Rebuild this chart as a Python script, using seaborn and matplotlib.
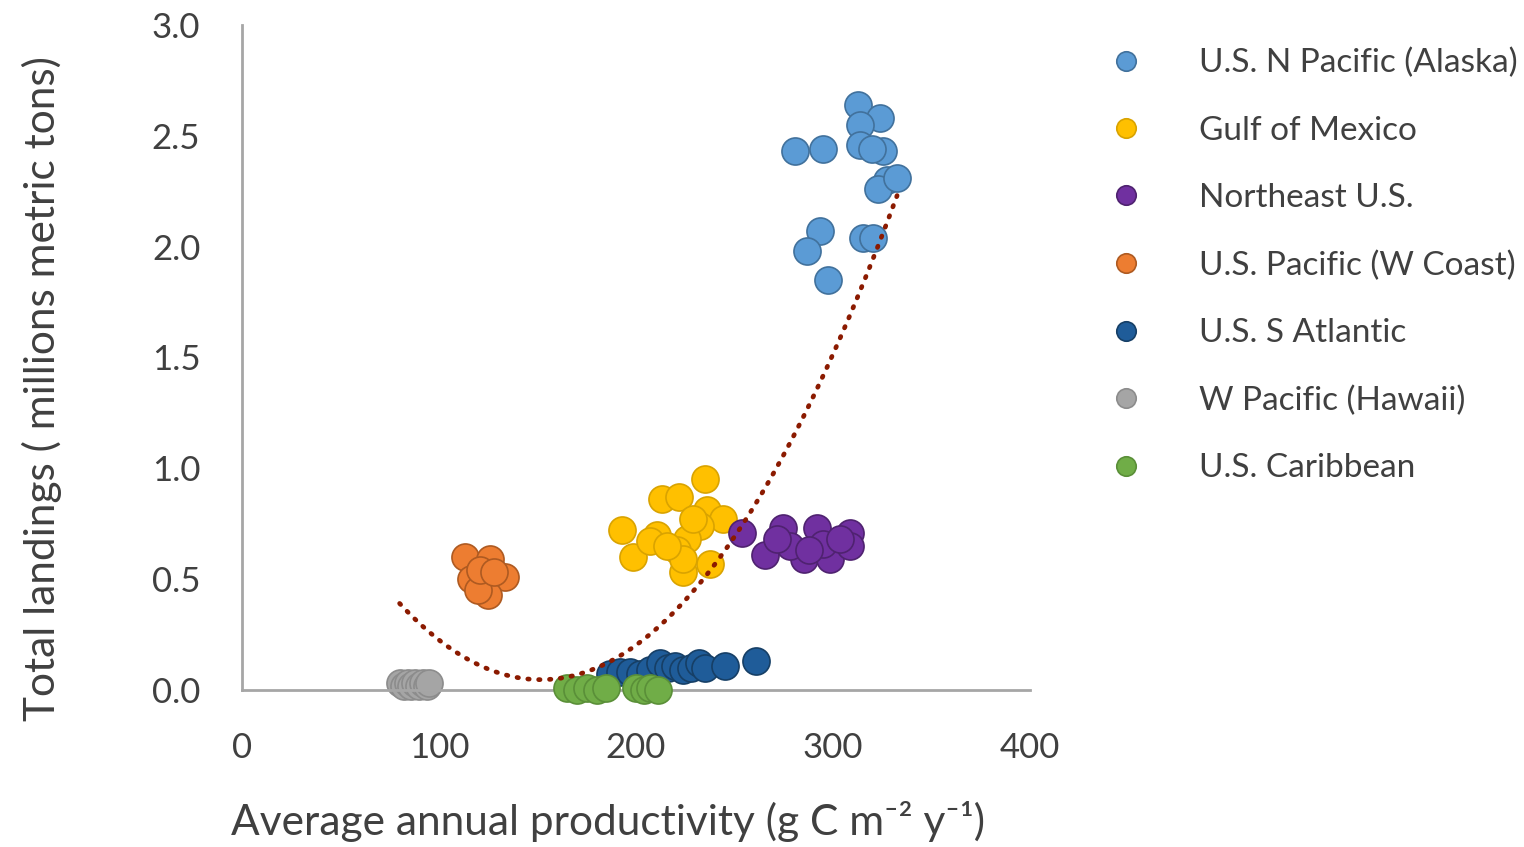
import numpy as np
import pandas as pd
import matplotlib
matplotlib.use("Agg")
import matplotlib.pyplot as plt
from matplotlib.lines import Line2D
import seaborn as sns

# values (productivity, landings)
regions = ["U.S. N Pacific (Alaska)", "Gulf of Mexico", "Northeast U.S.",
           "U.S. Pacific (W Coast)", "U.S. S Atlantic", "W Pacific (Hawaii)",
           "U.S. Caribbean"]

alaska_x = [312.7, 323.9, 313.7, 313.7, 325.4, 320.0, 280.7, 294.9,
            327.4, 322.8, 332.5, 293.4, 286.8, 297.5, 315.2, 320.3]
alaska_y = [2.64, 2.58, 2.55, 2.46, 2.43, 2.44, 2.43, 2.44,
            2.30, 2.26, 2.31, 2.07, 1.98, 1.85, 2.04, 2.04]

gulf_x = [235, 213, 222, 193, 198.5, 210.5, 207, 224, 237.6, 236, 244,
          232.5, 226, 221, 229, 224, 215.7]
gulf_y = [0.95, 0.86, 0.87, 0.72, 0.60, 0.70, 0.67, 0.53, 0.57, 0.81, 0.77,
          0.74, 0.68, 0.63, 0.77, 0.59, 0.65]

northeast_x = [254, 265.5, 274.6, 292, 285, 298.5, 308.6, 308.6, 278, 295,
               271.5, 303.5, 288]
northeast_y = [0.71, 0.61, 0.73, 0.73, 0.59, 0.59, 0.71, 0.65, 0.65, 0.66,
               0.68, 0.68, 0.63]

wcoast_x = [113, 126, 116, 133.5, 125, 120, 121, 128]
wcoast_y = [0.60, 0.59, 0.50, 0.51, 0.43, 0.45, 0.54, 0.53]

satl_x = [187, 192, 197, 202, 207, 212, 216, 220, 224, 228, 232, 235, 245, 261]
satl_y = [0.07, 0.08, 0.08, 0.07, 0.09, 0.12, 0.10, 0.11, 0.09, 0.10, 0.12, 0.10, 0.11, 0.13]

hawaii_x = [80, 82, 84, 86, 88, 90, 92, 94, 95]
hawaii_y = [0.03, 0.02, 0.03, 0.02, 0.03, 0.02, 0.03, 0.02, 0.03]

carib_x = [165, 170, 175, 180, 185, 200, 204, 207, 211]
carib_y = [0.01, 0.00, 0.01, 0.00, 0.01, 0.01, 0.00, 0.01, 0.00]

# 2nd order polynomial trendline, coefficients
trend_coef = [6.683e-5, -0.02028, 1.585]

colors = ["#5B9BD5", "#FFC000", "#7030A0", "#ED7D31", "#1F5C99", "#A5A5A5", "#70AD47"]
edges = ["#41719C", "#D9A300", "#4F2270", "#AE5A21", "#163F66", "#8C8C8C", "#5A8F38"]

xs = [alaska_x, gulf_x, northeast_x, wcoast_x, satl_x, hawaii_x, carib_x]
ys = [alaska_y, gulf_y, northeast_y, wcoast_y, satl_y, hawaii_y, carib_y]

frames = []
for name, x, y in zip(regions, xs, ys):
    frames.append(pd.DataFrame({"productivity": x, "landings": y, "region": name}))
df = pd.concat(frames, ignore_index=True)

sns.set_style("white")
plt.rcParams["font.family"] = ["Lato", "DejaVu Sans"]

fig = plt.figure(figsize=(15.24, 8.47), dpi=100)
ax = fig.add_axes([0.1588, 0.1854, 0.5171, 0.7851])

for i, name in enumerate(regions):
    sub = df[df["region"] == name]
    sns.scatterplot(data=sub, x="productivity", y="landings", ax=ax,
                    color=colors[i], edgecolor=edges[i], linewidth=1.2,
                    s=380, legend=False, clip_on=False, zorder=2 + i * 0.1)

trend_x = np.linspace(df["productivity"].min(), df["productivity"].max(), 200)
sns.lineplot(x=trend_x, y=np.polyval(trend_coef, trend_x), ax=ax,
             color="#8B1A00", lw=3.4, linestyle=(0, (0.3, 2.0)),
             dash_capstyle="round", zorder=5)

ax.set_xlim(0, 400)
ax.set_ylim(0, 3.0)
ax.set_xticks([0, 100, 200, 300, 400])
ax.set_yticks([0, 0.5, 1.0, 1.5, 2.0, 2.5, 3.0])
ax.set_yticklabels([f"{v:.1f}" for v in ax.get_yticks()])
ax.tick_params(axis="both", length=0, labelsize=25, labelcolor="#404040")
ax.tick_params(axis="y", pad=30)
ax.tick_params(axis="x", pad=30)

for side in ["top", "right"]:
    ax.spines[side].set_visible(False)
for side in ["left", "bottom"]:
    ax.spines[side].set_color("#A6A6A6")
    ax.spines[side].set_linewidth(2)

ax.set_xlabel("Average annual productivity (g C m\u207b\u00b2 y\u207b\u00b9)",
              fontsize=30.5, color="#404040", va="center")
ax.set_ylabel("Total landings ( millions metric tons)", fontsize=30.5,
              color="#404040", va="center")
ax.xaxis.set_label_coords(0.465, -0.198)
ax.yaxis.set_label_coords(-0.254, 0.454)

handles = [Line2D([], [], marker="o", linestyle="", markersize=14,
                  markerfacecolor=c, markeredgecolor=e, markeredgewidth=1.2)
           for c, e in zip(colors, edges)]
leg = fig.legend(handles, regions, loc="upper left", bbox_to_anchor=(0.717, 0.963),
                 frameon=False, fontsize=24, handletextpad=1.7, labelspacing=1.12,
                 handlelength=1.0, borderpad=0)
for t in leg.get_texts():
    t.set_color("#404040")

fig.savefig("out.png", dpi=100)
